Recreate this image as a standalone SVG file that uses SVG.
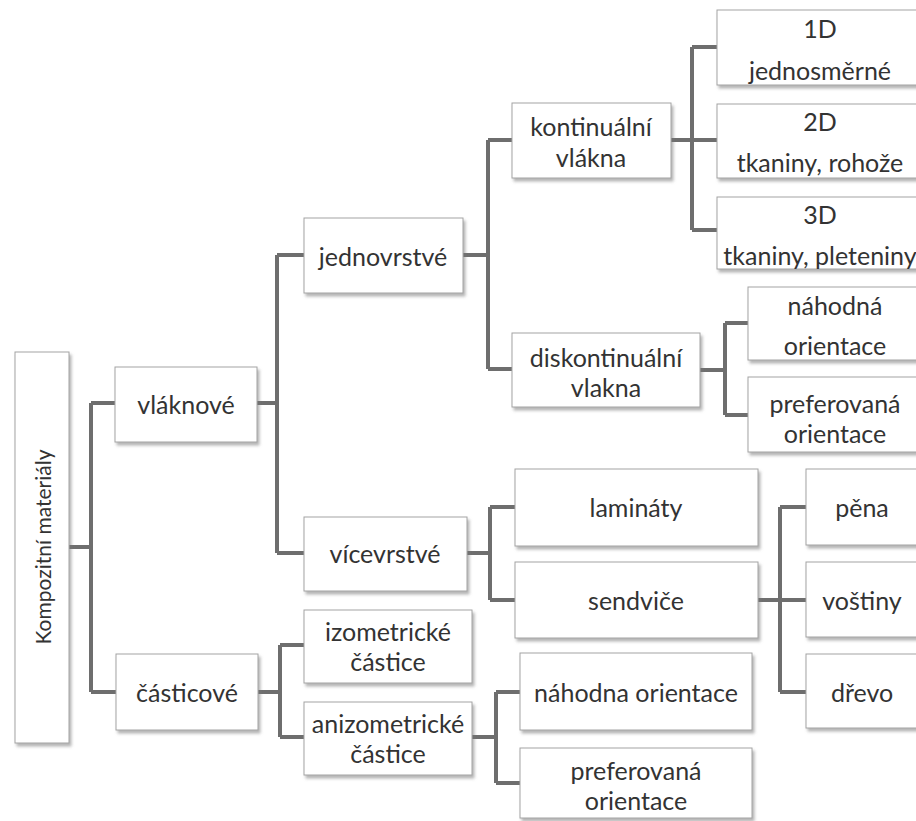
<svg xmlns="http://www.w3.org/2000/svg" width="916" height="821" viewBox="0 0 916 821">
<defs>
<filter id="sh" x="-10%" y="-10%" width="130%" height="130%">
<feDropShadow dx="2" dy="3" stdDeviation="1.5" flood-color="#777" flood-opacity="0.55"/>
</filter>
<style>
.box{fill:#fff;stroke:#a3a3a3;stroke-width:1;filter:url(#sh)}
.t{font-family:Lato,"Open Sans","DejaVu Sans",sans-serif;font-size:25px;fill:#333;text-anchor:middle;dominant-baseline:central}
.rt{font-size:21px}
.c{fill:none;stroke:#6e6e6e;stroke-width:4}
</style>
</defs>
<rect width="916" height="821" fill="#fff"/>
<g id="connectors" class="c">
<path d="M69,547H91M91,403V692M91,403H115M91,692H116"/>
<path d="M257,403H277M277,255V553M277,255H304M277,553H304"/>
<path d="M463,255H488M488,140V369M488,140H512M488,369H512"/>
<path d="M671,140H692M692,47V230M692,47H717M692,140H717M692,230H717"/>
<path d="M700,370H725M725,323V415M725,323H748M725,415H748"/>
<path d="M467,553H490M490,507V600M490,507H515M490,600H515"/>
<path d="M758,600H780M780,507V692M780,507H806M780,600H806M780,692H806"/>
<path d="M258,692H280M280,645V737M280,645H304M280,737H304"/>
<path d="M472,737H496M496,692V783M496,692H520M496,783H520"/>
</g>
<g id="root"><rect class="box" x="15" y="352" width="54" height="391"/><text class="t rt" transform="translate(42,547) rotate(-90)">Kompozitní materiály</text></g>
<g id="vlaknove"><rect class="box" x="115" y="367" width="142" height="75"/><text class="t" x="186" y="404">vláknové</text></g>
<g id="casticove"><rect class="box" x="116" y="654" width="142" height="76"/><text class="t" x="187" y="692">částicové</text></g>
<g id="jednovrstve"><rect class="box" x="304" y="218" width="159" height="75"/><text class="t" x="383" y="256">jednovrstvé</text></g>
<g id="vicevrstve"><rect class="box" x="304" y="517" width="163" height="74"/><text class="t" x="385" y="553">vícevrstvé</text></g>
<g id="kontinualni"><rect class="box" x="512" y="103" width="159" height="75"/><text class="t" x="591" y="126">kontinuální</text><text class="t" x="591" y="157">vlákna</text></g>
<g id="diskontinualni"><rect class="box" x="512" y="333" width="188" height="74"/><text class="t" x="606" y="357">diskontinuální</text><text class="t" x="606" y="387">vlakna</text></g>
<g id="d1"><rect class="box" x="717" y="10" width="210" height="75"/><text class="t" x="820" y="28">1D</text><text class="t" x="820" y="70">jednosměrné</text></g>
<g id="d2"><rect class="box" x="717" y="104" width="210" height="74"/><text class="t" x="820" y="121">2D</text><text class="t" x="820" y="162">tkaniny, rohože</text></g>
<g id="d3"><rect class="box" x="717" y="197" width="210" height="72"/><text class="t" x="820" y="214">3D</text><text class="t" x="820" y="255">tkaniny, pleteniny</text></g>
<g id="nahodna"><rect class="box" x="748" y="287" width="180" height="73"/><text class="t" x="835" y="305">náhodná</text><text class="t" x="835" y="345">orientace</text></g>
<g id="preferovana"><rect class="box" x="748" y="377" width="180" height="75"/><text class="t" x="835" y="403">preferovaná</text><text class="t" x="835" y="433">orientace</text></g>
<g id="laminaty"><rect class="box" x="515" y="469" width="243" height="77"/><text class="t" x="636" y="507">lamináty</text></g>
<g id="sendvice"><rect class="box" x="515" y="562" width="243" height="76"/><text class="t" x="636" y="600">sendviče</text></g>
<g id="pena"><rect class="box" x="806" y="469" width="120" height="76"/><text class="t" x="862" y="507">pěna</text></g>
<g id="vostiny"><rect class="box" x="806" y="562" width="120" height="75"/><text class="t" x="862" y="600">voštiny</text></g>
<g id="drevo"><rect class="box" x="806" y="654" width="120" height="74"/><text class="t" x="862" y="692">dřevo</text></g>
<g id="izometricke"><rect class="box" x="304" y="610" width="168" height="73"/><text class="t" x="388" y="631">izometrické</text><text class="t" x="388" y="661">částice</text></g>
<g id="anizometricke"><rect class="box" x="304" y="702" width="168" height="73"/><text class="t" x="388" y="723">anizometrické</text><text class="t" x="388" y="753">částice</text></g>
<g id="nahodna2"><rect class="box" x="520" y="653" width="232" height="77"/><text class="t" x="636" y="692">náhodna orientace</text></g>
<g id="preferovana2"><rect class="box" x="520" y="748" width="232" height="70"/><text class="t" x="636" y="770">preferovaná</text><text class="t" x="636" y="800">orientace</text></g>
</svg>
